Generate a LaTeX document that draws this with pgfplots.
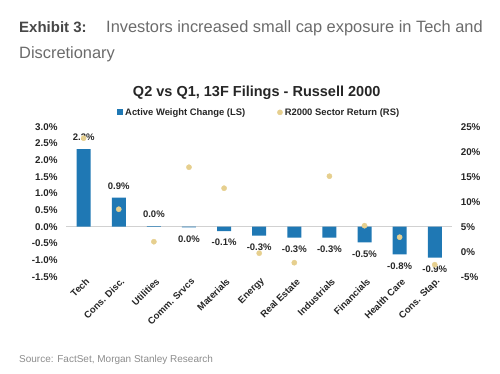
\documentclass[border=0pt]{standalone}
\usepackage{fontspec}
\setmainfont{Liberation Sans}
\usepackage{pgfplots}
\pgfplotsset{compat=1.18}
\definecolor{barblue}{HTML}{1F78B4}
\definecolor{dottan}{HTML}{E6CF8E}
\definecolor{txt}{HTML}{262626}
\begin{document}
\begin{tikzpicture}[x=1pt,y=1pt]
\path[use as bounding box] (0,0) rectangle (500,-373);
\node[anchor=base west, font=\fontsize{15}{18}\selectfont\bfseries, text=black!72, inner sep=0] at (19,-32.5) {Exhibit 3:};
\node[anchor=base west, font=\fontsize{16.4}{18}\selectfont, text=black!58, inner sep=0] at (106,-32.5) {Investors increased small cap exposure in Tech and};
\node[anchor=base west, font=\fontsize{16.4}{18}\selectfont, text=black!58, inner sep=0] at (19,-58.3) {Discretionary};
\node[anchor=base, font=\fontsize{14.5}{17}\selectfont\bfseries, text=txt, inner sep=0] at (256.7,-96.7) {Q2 vs Q1, 13F Filings - Russell 2000};
\node[anchor=base west, font=\fontsize{10}{12}\selectfont, text=black!45, inner sep=0] at (19,-362.7) {Source: FactSet, Morgan Stanley Research};

\begin{axis}[
  at={(66.1pt,-276.7pt)}, anchor=south west,
  width=386.2pt, height=150pt, scale only axis,
  xmin=-0.5, xmax=10.5, ymin=-1.5, ymax=3.0,
  axis line style={draw=none}, tick style={draw=none}, major tick length=0pt,
  xtick={0,...,10},
  xticklabels={Tech,Cons. Disc.,Utilities,Comm. Srvcs,Materials,Energy,Real Estate,Industrials,Financials,Health Care,Cons. Stap.},
  xticklabel style={rotate=45, anchor=east, xshift=4pt, yshift=-5pt, font=\fontsize{9.5}{11}\selectfont\bfseries, text=txt},
  ytick={-1.5,-1,-0.5,0,0.5,1,1.5,2,2.5,3},
  yticklabel={\pgfmathprintnumber[fixed,fixed zerofill,precision=1,assume math mode=true]{\tick}\%},
  yticklabel style={xshift=-5pt, font=\fontsize{9.8}{11}\selectfont\bfseries, text=txt},
  ybar, bar width=14pt,
  legend columns=2,
  legend style={at={(0.5,1)}, anchor=south, yshift=6pt, draw=none, fill=none,
    font=\fontsize{9.4}{11}\selectfont\bfseries, text=txt,
    /tikz/every even column/.append style={column sep=30pt}},
  clip=false,
]
\draw[black!18, line width=0.8pt] (axis cs:-0.5,0) -- (axis cs:10.5,0);
\addplot[fill=barblue, draw=none, bar shift=0pt, point meta=explicit symbolic,
  nodes near coords={\pgfplotspointmeta\%},
  every node near coord/.append style={font=\fontsize{9.5}{11}\selectfont\bfseries, text=txt, inner sep=0pt, anchor=south, yshift=8pt},
  legend image code/.code={\fill[barblue] (0pt,-3pt) rectangle (6pt,3pt);}]
  table[meta=l] {
x y l
0 2.33 2.3
1 0.87 0.9
2 0.02 0.0
};
\addlegendentry{Active Weight Change (LS)}
\addplot[fill=barblue, draw=none, bar shift=0pt, point meta=explicit symbolic,
  nodes near coords={\pgfplotspointmeta\%},
  every node near coord/.append style={font=\fontsize{9.5}{11}\selectfont\bfseries, text=txt, inner sep=0pt, anchor=north, yshift=-8pt},
  forget plot]
  table[meta=l] {
x y l
3 -0.02 0.0
4 -0.13 -0.1
5 -0.27 -0.3
6 -0.33 -0.3
7 -0.33 -0.3
8 -0.47 -0.5
9 -0.83 -0.8
10 -0.93 -0.9
};
\addlegendimage{legend image code/.code={\fill[dottan] (3pt,0pt) circle (2.6pt);}}
\addlegendentry{R2000 Sector Return (RS)}
\end{axis}

\begin{axis}[
  at={(66.1pt,-276.7pt)}, anchor=south west,
  width=386.2pt, height=150pt, scale only axis,
  xmin=-0.5, xmax=10.5, ymin=-5, ymax=25,
  hide x axis, axis line style={draw=none}, tick style={draw=none}, major tick length=0pt,
  yticklabel pos=right,
  ytick={-5,0,5,10,15,20,25},
  yticklabel={\pgfmathprintnumber[assume math mode=true]{\tick}\%},
  yticklabel style={xshift=5pt, font=\fontsize{9.8}{11}\selectfont\bfseries, text=txt},
  clip=false,
]
\addplot[only marks, mark=*, mark size=2.6pt, color=dottan] coordinates {
(0,22.7) (1,8.5) (2,2.0) (3,16.9) (4,12.7) (5,-0.3) (6,-2.2) (7,15.1) (8,5.2) (9,2.9) (10,-2.6)
};
\end{axis}
\end{tikzpicture}
\end{document}
